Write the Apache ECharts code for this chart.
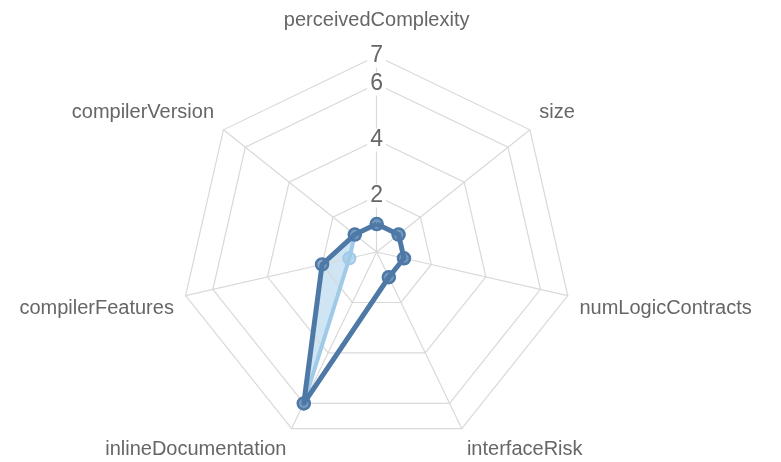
<!DOCTYPE html>
<html>
<head>
<meta charset="utf-8">
<script src="https://cdn.jsdelivr.net/npm/echarts@6/dist/echarts.min.js"></script>
<style>
  html, body { margin: 0; padding: 0; background: #fff; }
  #chart { width: 781px; height: 462px; }
</style>
</head>
<body>
<div id="chart"></div>
<script>
// Indicators listed counter-clockwise from the top (ECharts radar order)
const indicatorNames = ['perceivedComplexity', 'compilerVersion', 'compilerFeatures', 'inlineDocumentation', 'interfaceRisk', 'numLogicContracts', 'size'];
const maxValue = 7;
const seriesDark = [1, 1, 2, 6, 1, 1, 1];
const seriesLight = [1, 1, 1, 6, 1, 1, 1];
const tickLabels = [2, 4, 6, 7];
const nameAlign = ['center', 'right', 'right', 'right', 'left', 'left', 'left'];
const nameVAlign = ['bottom', 'bottom', 'top', 'top', 'top', 'top', 'bottom'];

const FONT = '"Liberation Sans", Arial, Helvetica, sans-serif';
const DARK = '#4e79a7';
const LIGHT = '#a0cbe8';
const GRID = '#d9d9d9';

const indicators = indicatorNames.map(function (n, i) {
  const ind = {
    name: n,
    max: maxValue,
    min: 0,
    nameTextStyle: {
      align: nameAlign[i],
      verticalAlign: nameVAlign[i],
      padding: i === 0 ? [0, 0, 14, 0] : 0
    }
  };
  if (i === 0) ind.axisLabel = { show: true };
  return ind;
});

// one ring per unit; only the rings that carry a tick label are drawn
const ringColors = [];
for (let v = 0; v <= maxValue; v++) {
  ringColors.push(tickLabels.indexOf(v) >= 0 ? GRID : 'rgba(0,0,0,0)');
}

const chart = echarts.init(document.getElementById('chart'), null, { renderer: 'canvas' });
chart.setOption({
  animation: false,
  backgroundColor: '#fff',
  radar: {
    z: 2,
    center: ['48.23%', '54.55%'],
    radius: 196,
    shape: 'polygon',
    startAngle: 90,
    splitNumber: maxValue,
    nameGap: 12,
    indicator: indicators,
    axisName: { color: '#666', fontSize: 20, fontFamily: FONT },
    nameTextStyle: { color: '#666', fontSize: 20, fontFamily: FONT },
    axisLine: { show: true, lineStyle: { color: GRID, width: 1.2 } },
    splitLine: { show: true, lineStyle: { color: ringColors, width: 1.2 } },
    splitArea: { show: false },
    axisTick: { show: false },
    axisLabel: {
      show: false,
      margin: 0,
      align: 'center',
      verticalAlign: 'middle',
      formatter: function (v) { return tickLabels.indexOf(v) >= 0 ? '{t|' + v + '}' : ''; },
      rich: {
        t: {
          color: '#666',
          fontSize: 23,
          fontFamily: FONT,
          backgroundColor: '#fff',
          padding: [0, 3]
        }
      }
    }
  },
  series: [
    {
      type: 'radar', z: 1, silent: true, symbol: 'none',
      lineStyle: { width: 0, opacity: 0 },
      areaStyle: { color: 'rgba(160,203,232,0.5)', opacity: 1 },
      data: [{ value: seriesDark }]
    },
    {
      type: 'radar', z: 1, silent: true, symbol: 'none',
      lineStyle: { width: 0, opacity: 0 },
      areaStyle: { color: '#ffffff', opacity: 1 },
      data: [{ value: seriesLight }]
    },
    {
      type: 'radar', z: 3, symbol: 'circle', symbolSize: 12,
      lineStyle: { color: LIGHT, width: 4 },
      itemStyle: { color: 'rgba(160,203,232,0.7)', borderColor: LIGHT, borderWidth: 2 },
      data: [{ value: seriesLight }]
    },
    {
      type: 'radar', z: 4, symbol: 'circle', symbolSize: 12,
      lineStyle: { color: DARK, width: 5 },
      itemStyle: { color: 'rgba(78,121,167,0.65)', borderColor: DARK, borderWidth: 2.5 },
      data: [{ value: seriesDark }]
    }
  ]
});
</script>
</body>
</html>
